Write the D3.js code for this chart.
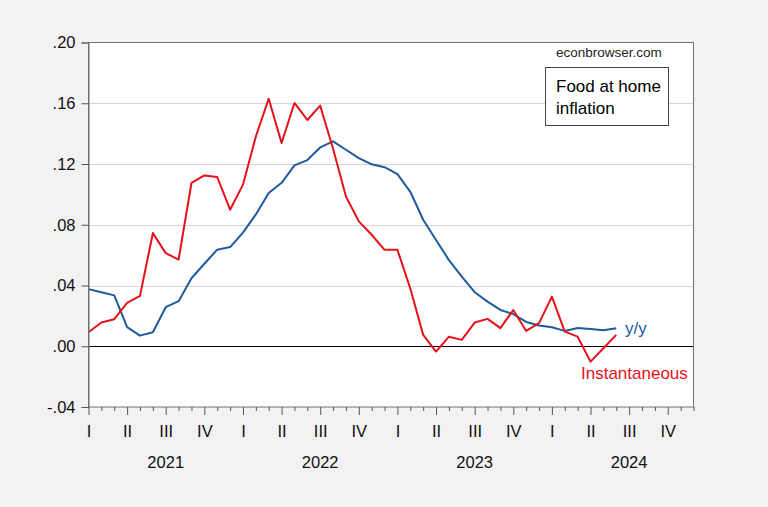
<!DOCTYPE html>
<html>
<head>
<meta charset="utf-8">
<script src="https://cdn.jsdelivr.net/npm/d3@7"></script>
<style>
  html, body { margin: 0; padding: 0; background: #f2f2f2; }
  svg { display: block; }
  text { font-family: "Liberation Sans", Arial, sans-serif; }
</style>
</head>
<body>
<svg id="chart" width="768" height="507"></svg>
<script>
// Monthly observations, Jan 2021 .. Jun 2024 (index 0 = 2021-01)
const months = d3.range(0, 42);
const yoy = [
  0.0376, 0.0356, 0.0335, 0.0126, 0.0070, 0.0092, 0.0257, 0.0297, 0.0448, 0.0543,
  0.0636, 0.0653, 0.0748, 0.0868, 0.1009, 0.1076, 0.1191, 0.1226, 0.1309, 0.1349,
  0.1294, 0.1239, 0.1198, 0.1179, 0.1133, 0.1017, 0.0833, 0.0700, 0.0567, 0.0459,
  0.0356, 0.0294, 0.0239, 0.0212, 0.0160, 0.0137, 0.0125, 0.0101, 0.0120, 0.0113,
  0.0106, 0.0119
];
const instantaneous = [
  0.0092, 0.0156, 0.0178, 0.0285, 0.0332, 0.0745, 0.0613, 0.0571, 0.1075, 0.1125,
  0.1114, 0.0899, 0.1064, 0.1381, 0.1630, 0.1338, 0.1602, 0.1490, 0.1584, 0.1300,
  0.0986, 0.0822, 0.0734, 0.0635, 0.0635, 0.0380, 0.0075, -0.0035, 0.0063, 0.0042,
  0.0156, 0.0180, 0.0119, 0.0239, 0.0101, 0.0152, 0.0327, 0.0096, 0.0063, -0.0101,
  -0.0013, 0.0075
];
const yTicks = [-0.04, 0.00, 0.04, 0.08, 0.12, 0.16, 0.20];
const gridTicks = [0.04, 0.08, 0.12, 0.16];
const quarterLabels = ["I", "II", "III", "IV"];
const years = ["2021", "2022", "2023", "2024"];
const axisMonths = d3.range(0, 48); // Jan 2021 .. Dec 2024

const svg = d3.select("#chart");
const L = 88.5, R = 693.5, T = 42.5, B = 407;

const x = d3.scaleLinear().domain([0, 47]).range([L, R]);
const y = d3.scaleLinear().domain([-0.04, 0.20]).range([B, T]);

// plot background
svg.append("rect").attr("x", L).attr("y", T).attr("width", R - L).attr("height", B - T)
  .attr("fill", "#ffffff");

// gridlines
svg.append("g").selectAll("line").data(gridTicks).join("line")
  .attr("x1", L).attr("x2", R)
  .attr("y1", d => Math.round(y(d)) + 0.5).attr("y2", d => Math.round(y(d)) + 0.5)
  .attr("stroke", "#d6d6d6").attr("stroke-width", 1);

// zero line
svg.append("line").attr("x1", L).attr("x2", R)
  .attr("y1", Math.round(y(0)) + 0.5).attr("y2", Math.round(y(0)) + 0.5)
  .attr("stroke", "#000").attr("stroke-width", 1);

// lines
const line = d3.line().x((d, i) => x(months[i])).y(d => y(d));
svg.append("path").datum(yoy).attr("d", line)
  .attr("fill", "none").attr("stroke", "#1f5b9b").attr("stroke-width", 2)
  .attr("stroke-linejoin", "round");
svg.append("path").datum(instantaneous).attr("d", line)
  .attr("fill", "none").attr("stroke", "#e8111b").attr("stroke-width", 2)
  .attr("stroke-linejoin", "round");

// frame
svg.append("rect").attr("x", L).attr("y", T).attr("width", R - L).attr("height", B - T)
  .attr("fill", "none").attr("stroke", "#707070").attr("stroke-width", 1);

// y axis
const fmt = d => (d < 0 ? "-" : "") + Math.abs(d).toFixed(2).replace(/^0/, "");
const yAxis = svg.append("g").attr("transform", `translate(${L},0)`)
  .call(d3.axisLeft(y).tickValues(yTicks).tickFormat(fmt).tickSize(7).tickPadding(6));
yAxis.select(".domain").attr("stroke", "#707070");
yAxis.selectAll(".tick line").attr("stroke", "#555");
yAxis.selectAll("text").attr("font-size", "16.5px").attr("fill", "#111")
  .attr("font-family", "'Liberation Sans', Arial, sans-serif");

// x axis (monthly ticks, quarterly major)
const xAxis = svg.append("g").attr("transform", `translate(0,${B})`)
  .call(d3.axisBottom(x).tickValues(axisMonths).tickFormat("").tickSize(4));
xAxis.select(".domain").remove();
xAxis.selectAll(".tick line").attr("stroke", "#555")
  .attr("y2", d => d % 3 === 0 ? 8 : 4);
xAxis.selectAll(".tick").filter(d => d % 3 === 0).append("text")
  .attr("y", 30).attr("fill", "#111").attr("text-anchor", "middle")
  .attr("font-size", "16.5px")
  .text(d => quarterLabels[(d / 3) % 4]);

// year labels
svg.append("g").selectAll("text").data(years).join("text")
  .attr("x", (d, i) => x(6 + 12 * i))
  .attr("y", 468).attr("text-anchor", "middle")
  .attr("font-size", "16.5px").attr("fill", "#111")
  .text(d => d);

// annotations
svg.append("text").attr("x", 556).attr("y", 57).attr("font-size", "13.5px")
  .attr("fill", "#222").text("econbrowser.com");

svg.append("rect").attr("x", 545.5).attr("y", 67.5).attr("width", 123).attr("height", 58)
  .attr("fill", "#fff").attr("stroke", "#444").attr("stroke-width", 1);
svg.append("text").attr("x", 556).attr("y", 92).attr("font-size", "17px")
  .attr("fill", "#000").text("Food at home");
svg.append("text").attr("x", 556).attr("y", 114).attr("font-size", "17px")
  .attr("fill", "#000").text("inflation");

svg.append("text").attr("x", 625).attr("y", 334).attr("font-size", "17px")
  .attr("fill", "#1f5b9b").text("y/y");
svg.append("text").attr("x", 581).attr("y", 379).attr("font-size", "17px")
  .attr("fill", "#e8111b").text("Instantaneous");
</script>
</body>
</html>
